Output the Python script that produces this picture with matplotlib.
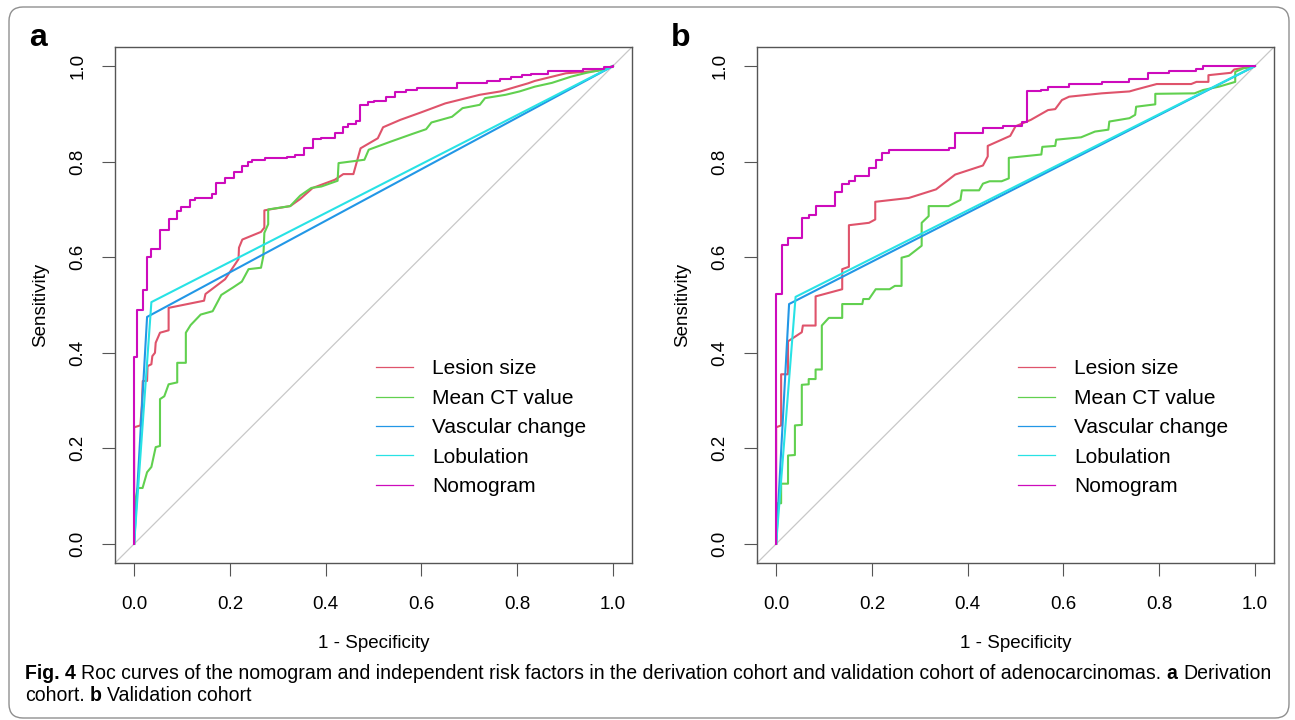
import matplotlib
matplotlib.use("Agg")
import matplotlib.pyplot as plt
from matplotlib import font_manager
from matplotlib.lines import Line2D
from matplotlib.patches import FancyBboxPatch
from matplotlib.transforms import IdentityTransform

plt.rcParams["font.family"] = ["Liberation Sans", "DejaVu Sans"]

series_names = ["Lesion size", "Mean CT value", "Vascular change", "Lobulation", "Nomogram"]
series_colors = ["#DF536B", "#61D04F", "#2297E6", "#28E2E5", "#CD0BBC"]
axis_ticks = [0.0, 0.2, 0.4, 0.6, 0.8, 1.0]

# ---- panel a: derivation cohort ----
a_lesion_fpr = [0, 0, 0.013, 0.016, 0.018, 0.027, 0.028, 0.036, 0.038, 0.0435, 0.045, 0.054, 0.072, 0.072,
                0.146, 0.149, 0.19, 0.218, 0.219, 0.226, 0.265, 0.272, 0.272, 0.283, 0.326, 0.347, 0.373,
                0.419, 0.437, 0.458, 0.473, 0.509, 0.52, 0.556, 0.599, 0.65, 0.722, 0.765, 0.823, 0.837,
                0.902, 0.967, 1.0]
a_lesion_tpr = [0, 0.244, 0.248, 0.289, 0.341, 0.341, 0.372, 0.376, 0.393, 0.40, 0.421, 0.442, 0.447, 0.494,
                0.509, 0.523, 0.554, 0.596, 0.62, 0.637, 0.653, 0.662, 0.698, 0.70, 0.707, 0.722, 0.745,
                0.762, 0.774, 0.774, 0.828, 0.849, 0.872, 0.8875, 0.903, 0.922, 0.94, 0.947, 0.964, 0.969,
                0.985, 0.99, 1.0]
a_ct_fpr = [0, 0.0018, 0.0075, 0.0176, 0.027, 0.036, 0.045, 0.054, 0.054, 0.063, 0.072, 0.090, 0.090, 0.108,
            0.108, 0.118, 0.139, 0.164, 0.182, 0.207, 0.225, 0.239, 0.265, 0.270, 0.272, 0.280, 0.280, 0.326,
            0.347, 0.370, 0.391, 0.425, 0.427, 0.481, 0.490, 0.536, 0.581, 0.610, 0.621, 0.664, 0.686, 0.722,
            0.733, 0.776, 0.805, 0.837, 0.873, 0.913, 0.945, 0.981, 1.0]
a_ct_tpr = [0, 0.088, 0.117, 0.117, 0.150, 0.161, 0.2025, 0.205, 0.303, 0.309, 0.334, 0.338, 0.379, 0.379,
            0.442, 0.458, 0.48, 0.487, 0.521, 0.537, 0.549, 0.575, 0.578, 0.603, 0.651, 0.669, 0.70, 0.707,
            0.729, 0.745, 0.748, 0.76, 0.797, 0.804, 0.825, 0.842, 0.858, 0.868, 0.882, 0.894, 0.912, 0.919,
            0.933, 0.94, 0.947, 0.957, 0.965, 0.978, 0.986, 0.993, 1.0]
a_vasc_fpr = [0, 0.027, 1.0]
a_vasc_tpr = [0, 0.475, 1.0]
a_lobu_fpr = [0, 0.036, 1.0]
a_lobu_tpr = [0, 0.506, 1.0]
# nomogram is drawn as a step curve (tpr = level after the step)
a_nomo_fpr = [0, 0, 0.0054, 0.0176, 0.027, 0.036, 0.054, 0.072, 0.090, 0.098, 0.117, 0.128, 0.162, 0.171,
              0.190, 0.208, 0.225, 0.238, 0.247, 0.273, 0.319, 0.337, 0.355, 0.373, 0.391, 0.419, 0.437,
              0.447, 0.464, 0.471, 0.488, 0.501, 0.527, 0.545, 0.567, 0.591, 0.674, 0.738, 0.764, 0.787,
              0.810, 0.830, 0.864, 0.938, 0.982, 1.0]
a_nomo_tpr = [0, 0.391, 0.490, 0.532, 0.601, 0.618, 0.657, 0.681, 0.697, 0.705, 0.719, 0.724, 0.733, 0.755,
              0.765, 0.778, 0.790, 0.800, 0.804, 0.807, 0.810, 0.814, 0.829, 0.847, 0.850, 0.861, 0.872,
              0.878, 0.885, 0.918, 0.924, 0.928, 0.936, 0.946, 0.949, 0.955, 0.965, 0.969, 0.974, 0.978,
              0.981, 0.984, 0.990, 0.993, 0.999, 1.0]

# ---- panel b: validation cohort ----
b_lesion_fpr = [0, 0, 0.0104, 0.0104, 0.0248, 0.0248, 0.0536, 0.0558, 0.0824, 0.0824, 0.138, 0.138, 0.152,
                0.152, 0.194, 0.207, 0.207, 0.277, 0.334, 0.374, 0.432, 0.442, 0.442, 0.489, 0.50, 0.532,
                0.568, 0.583, 0.597, 0.612, 0.68, 0.738, 0.752, 0.795, 0.867, 0.878, 0.903, 0.903, 0.95,
                0.957, 1.0]
b_lesion_tpr = [0, 0.244, 0.248, 0.355, 0.355, 0.424, 0.443, 0.457, 0.457, 0.518, 0.533, 0.575, 0.58, 0.667,
                0.672, 0.679, 0.716, 0.724, 0.742, 0.773, 0.792, 0.811, 0.833, 0.854, 0.874, 0.8875, 0.908,
                0.91, 0.929, 0.936, 0.943, 0.947, 0.951, 0.9625, 0.9625, 0.967, 0.967, 0.981, 0.986, 0.993,
                1.0]
b_ct_fpr = [0, 0.0018, 0.0104, 0.0104, 0.0248, 0.0248, 0.0392, 0.0392, 0.0536, 0.0536, 0.068, 0.068, 0.0824,
            0.0824, 0.0954, 0.0954, 0.110, 0.138, 0.138, 0.18, 0.182, 0.194, 0.208, 0.237, 0.248, 0.262,
            0.262, 0.277, 0.304, 0.304, 0.3186, 0.3186, 0.36, 0.385, 0.388, 0.424, 0.432, 0.446, 0.471,
            0.486, 0.486, 0.554, 0.556, 0.583, 0.585, 0.637, 0.666, 0.694, 0.696, 0.738, 0.75, 0.752, 0.792,
            0.792, 0.874, 0.892, 0.925, 0.959, 0.959, 0.975, 1.0]
b_ct_tpr = [0, 0.085, 0.085, 0.126, 0.126, 0.185, 0.186, 0.248, 0.249, 0.333, 0.334, 0.345, 0.345, 0.365,
            0.365, 0.457, 0.473, 0.473, 0.502, 0.502, 0.5125, 0.5125, 0.533, 0.533, 0.54, 0.54, 0.599,
            0.603, 0.624, 0.672, 0.686, 0.707, 0.707, 0.72, 0.74, 0.74, 0.754, 0.759, 0.759, 0.765, 0.808,
            0.815, 0.831, 0.833, 0.846, 0.851, 0.863, 0.867, 0.884, 0.891, 0.898, 0.915, 0.92, 0.942, 0.943,
            0.95, 0.957, 0.967, 0.988, 0.995, 1.0]
b_vasc_fpr = [0, 0.027, 1.0]
b_vasc_tpr = [0, 0.502, 1.0]
b_lobu_fpr = [0, 0.0406, 1.0]
b_lobu_tpr = [0, 0.517, 1.0]
b_nomo_fpr = [0, 0, 0.0118, 0.0248, 0.0536, 0.068, 0.0824, 0.123, 0.138, 0.153, 0.165, 0.194, 0.208, 0.221,
              0.235, 0.361, 0.374, 0.432, 0.473, 0.513, 0.525, 0.554, 0.568, 0.612, 0.68, 0.738, 0.777,
              0.82, 0.878, 0.892, 1.0]
b_nomo_tpr = [0, 0.523, 0.625, 0.64, 0.683, 0.688, 0.707, 0.7375, 0.753, 0.759, 0.769, 0.787, 0.803, 0.818,
              0.824, 0.8285, 0.861, 0.87, 0.875, 0.883, 0.947, 0.951, 0.957, 0.962, 0.967, 0.973, 0.985,
              0.99, 0.995, 1.0, 1.0]

caption_line1 = [("Fig. 4", "bold"), (" ", "normal"),
                 ("Roc curves of the nomogram and independent risk factors in the derivation cohort and "
                  "validation cohort of adenocarcinomas.", "normal"), (" ", "normal"),
                 ("a", "bold"), (" ", "normal"), ("Derivation", "normal")]
caption_line2 = [("cohort.", "normal"), (" ", "normal"), ("b", "bold"), (" ", "normal"),
                 ("Validation cohort", "normal")]

W, H = 1295, 720
fig = plt.figure(figsize=(W / 100, H / 100), dpi=100)
fig.patch.set_facecolor("white")

# rounded frame around the whole figure
fig.add_artist(FancyBboxPatch((9, 2), 1280, 711, boxstyle="round,pad=0,rounding_size=14",
                              transform=IdentityTransform(), fill=False, ec="#8f8f8f", lw=1.0))

panels = [
    ("a", 115, [(a_lesion_fpr, a_lesion_tpr), (a_ct_fpr, a_ct_tpr), (a_vasc_fpr, a_vasc_tpr),
                (a_lobu_fpr, a_lobu_tpr)], (a_nomo_fpr, a_nomo_tpr)),
    ("b", 757, [(b_lesion_fpr, b_lesion_tpr), (b_ct_fpr, b_ct_tpr), (b_vasc_fpr, b_vasc_tpr),
                (b_lobu_fpr, b_lobu_tpr)], (b_nomo_fpr, b_nomo_tpr)),
]

for letter, left_px, curves, nomo in panels:
    ax = fig.add_axes([left_px / W, 1 - 563 / H, 517 / W, 516 / H])
    ax.set_xlim(-0.04, 1.04)
    ax.set_ylim(-0.04, 1.04)
    ax.axline((0, 0), (1, 1), color="#c8c8c8", lw=0.9, zorder=1)
    for (fpr, tpr), color in zip(curves, series_colors[:4]):
        ax.plot(fpr, tpr, color=color, lw=1.5, zorder=2)
    ax.step(nomo[0], nomo[1], where="post", color=series_colors[4], lw=1.5, zorder=3)

    ax.set_xticks(axis_ticks)
    ax.set_yticks(axis_ticks)
    ax.set_xticklabels([f"{t:.1f}" for t in axis_ticks])
    ax.set_yticklabels([f"{t:.1f}" for t in axis_ticks], rotation=90, va="center")
    ax.tick_params(axis="both", length=9.5, width=0.8, color="#555555", labelsize=13.5)
    ax.tick_params(axis="x", pad=14)
    ax.tick_params(axis="y", pad=11)
    for s in ax.spines.values():
        s.set_color("#555555")
        s.set_linewidth(1.0)

    ax.set_xlabel("1 - Specificity", fontsize=13.5)
    ax.set_ylabel("Sensitivity", fontsize=13.5)
    ax.xaxis.set_label_coords(0.5, -0.139)
    ax.yaxis.set_label_coords(-0.128, 0.5)

    handles = [Line2D([], [], color=c, lw=0.9) for c in series_colors]
    ax.legend(handles, series_names, loc="center left", bbox_to_anchor=(0.505, 0.243),
              bbox_transform=ax.transData, frameon=False, fontsize=15, handlelength=1.76,
              handletextpad=0.95, labelspacing=0.5, borderpad=0, borderaxespad=0)

    fig.text((left_px - 86) / W, 1 - 38 / H, letter, fontsize=23, fontweight="bold",
             ha="left", va="center")

# ---- caption, fitted to the width of the frame ----
names = {f.name for f in font_manager.fontManager.ttflist}
cap_family = "Liberation Sans Narrow" if "Liberation Sans Narrow" in names else "Liberation Sans"
renderer = fig.canvas.get_renderer()


def draw_runs(runs, x, y, size):
    made = []
    for text, weight in runs:
        if text == " ":
            a = fig.text(0, 0, "x x", fontsize=size, family=cap_family, transform=IdentityTransform())
            b = fig.text(0, 0, "xx", fontsize=size, family=cap_family, transform=IdentityTransform())
            x += a.get_window_extent(renderer).width - b.get_window_extent(renderer).width
            a.remove()
            b.remove()
            continue
        t = fig.text(x, y, text, fontsize=size, fontweight=weight, family=cap_family,
                     transform=IdentityTransform(), ha="left", va="baseline")
        x += t.get_window_extent(renderer).width
        made.append(t)
    return x, made


size = 11.0
end, made = draw_runs(caption_line1, 25, H - 679, size)
for t in made:
    t.remove()
size = size * (1265 - 25) / (end - 25)
draw_runs(caption_line1, 25, H - 679, size)
draw_runs(caption_line2, 25, H - 701, size)

fig.savefig("out.png", dpi=100)
